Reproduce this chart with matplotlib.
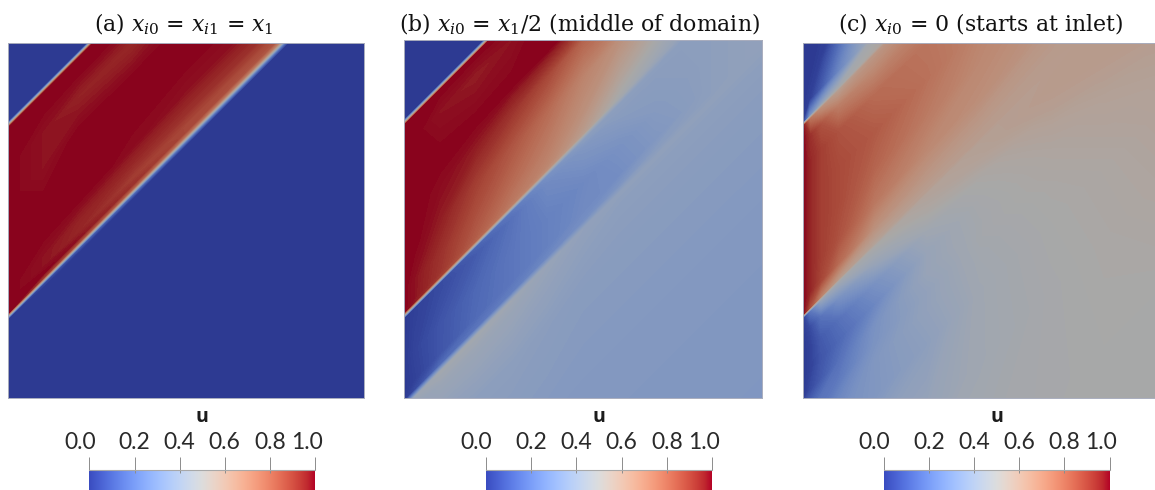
import numpy as np
import matplotlib
matplotlib.use("Agg")
import matplotlib.pyplot as plt
from matplotlib.colors import ListedColormap, Normalize

plt.rcParams['mathtext.fontset'] = 'custom'
plt.rcParams['mathtext.rm'] = 'DejaVu Serif'
plt.rcParams['mathtext.it'] = 'DejaVu Serif:italic'

titles = [r'(a) $x_{i0}$ = $x_{i1}$ = $x_1$',
          r'(b) $x_{i0}$ = $x_1/2$ (middle of domain)',
          r'(c) $x_{i0}$ = 0 (starts at inlet)']
cbar_ticks = [0.0, 0.2, 0.4, 0.6, 0.8, 1.0]
cbar_labels = ['0.0', '0.2', '0.4', '0.6', '0.8', '1.0']
cbar_title = 'u'

# u sampled along the convection diagonals: rows = offset d (y - x), columns = x
a_x = [0, .1, .2, .35, .5, .65, .8, 1]
a_d = [-1, .212, .222, .23, .238, .25, .27, .30, .36, .45, .55, .65, .72, .76, .768, .776, 1]
a_u = [
    [0, 0, 0, 0, 0, 0, 0, 0],
    [0, 0, 0, 0, 0, 0, 0, 0],
    [0, .05, .10, .15, .20, .22, .20, .20],
    [.5, .5, .5, .5, .5, .5, .5, .5],
    [1, .90, .85, .80, .75, .72, .70, .70],
    [1, 1, .98, .93, .88, .85, .83, .83],
    [1, .98, .95, .90, .88, .87, .87, .87],
    [1, .98, .96, .94, .93, .93, .93, .93],
    [1, 1, 1, .99, .98, .98, .98, .98],
    [1, 1, 1, 1, 1, 1, 1, 1],
    [1, .98, 1, 1, 1, 1, 1, 1],
    [1, .98, .96, .95, .97, 1, 1, 1],
    [1, 1, 1, 1, 1, 1, 1, 1],
    [1, 1, 1, 1, 1, 1, 1, 1],
    [.5, .5, .5, .5, .5, .5, .5, .5],
    [0, 0, 0, 0, 0, 0, 0, 0],
    [0, 0, 0, 0, 0, 0, 0, 0],
]

b_x = [0, .03, .1, .2, .3, .4, .5, .6, .7, .85, 1]
b_d = [-1, -.5, -.2, -.06, -.03, -.01, .02, .1, .2, .222, .23, .238, .25, .3, .4, .5, .57, .7, .76, .768, .776, 1]
b_u = [
    [.33, .33, .33, .33, .33, .33, .33, .33, .33, .33, .33],
    [.34, .34, .34, .34, .34, .34, .34, .34, .34, .34, .34],
    [.37, .37, .37, .38, .38, .37, .36, .36, .36, .36, .36],
    [.42, .40, .44, .44, .43, .41, .39, .38, .38, .38, .38],
    [.42, .44, .47, .47, .45, .42, .40, .39, .39, .39, .39],
    [0, .05, .15, .19, .22, .26, .29, .32, .36, .38, .40],
    [0, .02, .08, .15, .19, .23, .27, .28, .33, .38, .40],
    [0, .03, .08, .14, .19, .23, .26, .30, .35, .38, .40],
    [0, .02, .05, .10, .17, .27, .33, .37, .37, .38, .40],
    [0, .02, .05, .13, .20, .30, .37, .38, .38, .38, .40],
    [.5, .5, .5, .5, .48, .46, .45, .43, .40, .38, .40],
    [1, .97, .90, .80, .72, .66, .58, .48, .43, .39, .40],
    [1, .98, .92, .82, .74, .69, .60, .50, .45, .40, .40],
    [1, .98, .93, .85, .78, .72, .65, .56, .50, .42, .40],
    [1, 1, .97, .90, .84, .78, .70, .65, .60, .50, .45],
    [1, 1, .99, .97, .93, .88, .80, .80, .70, .60, .50],
    [1, 1, 1, 1, 1, 1, .98, .90, .80, .70, .60],
    [1, 1, .98, .97, .98, 1, 1, 1, 1, 1, 1],
    [1, 1, 1, 1, 1, 1, 1, 1, 1, 1, 1],
    [.5, .5, .5, .5, .5, .5, .5, .5, .5, .5, .5],
    [0, 0, 0, 0, 0, 0, 0, 0, 0, 0, 0],
    [0, 0, 0, 0, 0, 0, 0, 0, 0, 0, 0],
]

c_x = [0, .02, .05, .1, .2, .35, .5, .7, .85, 1]
c_d = [-1, -.7, -.4, -.2, -.1, -.05, 0, .06, .12, .18, .225, .23, .235, .28, .35, .45, .55, .65, .72, .765, .77, .775, .82, .9, 1]
c_u = [
    [.5, .5, .5, .5, .5, .5, .5, .5, .5, .50],
    [.48, .48, .48, .48, .48, .48, .48, .49, .50, .50],
    [.42, .42, .42, .42, .42, .42, .46, .49, .51, .53],
    [.3, .3, .3, .3, .33, .38, .46, .50, .52, .55],
    [.2, .2, .2, .25, .33, .40, .47, .51, .54, .56],
    [.15, .15, .18, .20, .31, .40, .48, .52, .55, .57],
    [0, .05, .10, .17, .30, .42, .48, .53, .56, .58],
    [0, .02, .08, .14, .25, .42, .49, .55, .58, .60],
    [0, .02, .10, .17, .30, .46, .51, .58, .60, .60],
    [0, .05, .18, .30, .43, .52, .56, .60, .60, .60],
    [0, .20, .42, .46, .50, .55, .57, .59, .60, .60],
    [.5, .5, .5, .5, .53, .56, .58, .59, .60, .60],
    [1, .85, .70, .60, .56, .58, .59, .59, .60, .60],
    [1, .95, .88, .78, .65, .62, .61, .60, .60, .60],
    [1, .95, .90, .85, .74, .68, .66, .62, .60, .60],
    [1, .95, .90, .87, .80, .73, .68, .65, .60, .60],
    [1, .95, .90, .87, .83, .76, .70, .65, .60, .60],
    [1, .95, .90, .85, .78, .75, .70, .65, .60, .60],
    [1, .93, .85, .72, .68, .70, .70, .65, .60, .60],
    [1, .75, .65, .58, .62, .65, .65, .60, .60, .60],
    [.5, .5, .5, .5, .56, .60, .60, .60, .60, .60],
    [0, .30, .40, .47, .52, .60, .60, .60, .60, .60],
    [0, .02, .10, .25, .48, .60, .60, .60, .60, .60],
    [0, 0, .02, .15, .44, .60, .60, .60, .60, .60],
    [0, 0, 0, 0, .44, .60, .60, .60, .60, .60],
]

W, H = 1155, 490
# pixel boxes (left, top, right, bottom)
panel_boxes = [(8, 43, 363.5, 397.5), (404, 40, 762, 397.5), (803, 43, 1155, 397.5)]
panel_xmax = [1.0, 1.0, 0.993]
cbar_boxes = [(89.5, 470, 315, 490), (486, 470, 712, 490), (884, 470, 1109.5, 490)]
title_cx = [184, 579, 980]
FIELD_SHADE = 0.76

base = plt.get_cmap('coolwarm')(np.linspace(0, 1, 256))
shaded = base.copy()
shaded[:, :3] *= FIELD_SHADE
field_cmap = ListedColormap(shaded)
norm = Normalize(0, 1)
levels = np.linspace(0, 1, 161)
ramp = np.linspace(0, 1, 256)[None, :]


def box_axes(fig, box):
    l, t, r, b = box
    return fig.add_axes([l / W, 1 - b / H, (r - l) / W, (b - t) / H])


fig = plt.figure(figsize=(W / 100, H / 100), dpi=100)
fields = [(a_x, a_d, a_u), (b_x, b_d, b_u), (c_x, c_d, c_u)]
for i, (xs, ds, us) in enumerate(fields):
    ax = box_axes(fig, panel_boxes[i])
    xg, dg = np.meshgrid(xs, ds)
    ax.contourf(xg, dg + xg, np.array(us, float), levels=levels, cmap=field_cmap,
                norm=norm, extend='both', antialiased=False)
    ax.set_xlim(0, panel_xmax[i])
    ax.set_ylim(0, 1)
    ax.set_xticks([])
    ax.set_yticks([])
    for s in ax.spines.values():
        s.set_color('#a9adbd')
        s.set_linewidth(0.7)
    fig.text(title_cx[i] / W, 1 - 31 / H, titles[i], ha='center', va='baseline',
             fontsize=15.8, family='DejaVu Serif', color='#111111')

    cax = box_axes(fig, cbar_boxes[i])
    cax.imshow(ramp, extent=[0, 1, 0, 1], aspect='auto', cmap='coolwarm', norm=norm, origin='lower')
    for name, s in cax.spines.items():
        s.set_visible(name == 'top')
    cax.spines['top'].set_color('#a8a8a8')
    cax.spines['top'].set_linewidth(0.8)
    cax.set_yticks([])
    cax.set_xticks(cbar_ticks)
    cax.tick_params(axis='x', top=True, bottom=False, labeltop=False, labelbottom=False,
                    length=9.5, width=0.7, color='#8c8c8c')
    cax.vlines(cbar_ticks[1:-1], 0.87, 1, transform=cax.get_xaxis_transform(),
               color='#8c8c8c', lw=0.7)
    for v, lab in zip(cbar_ticks, cbar_labels):
        dx = {'0.0': -6.8, '1.0': -5.8}.get(lab, 0)
        cax.annotate(lab, xy=(v, 1), xycoords=('data', 'axes fraction'),
                     xytext=(dx, 15.0), textcoords='offset points', ha='center', va='baseline',
                     fontsize=16.5, family='Lato', color='#2a2a2a', annotation_clip=False)
    cax.annotate(cbar_title, xy=(0.5, 1), xycoords='axes fraction', xytext=(0, 34.5),
                 textcoords='offset points', ha='center', va='baseline', fontsize=14,
                 family='Open Sans', weight='bold', color='#1c1c1c', annotation_clip=False)

fig.savefig('out.png', dpi=100)
